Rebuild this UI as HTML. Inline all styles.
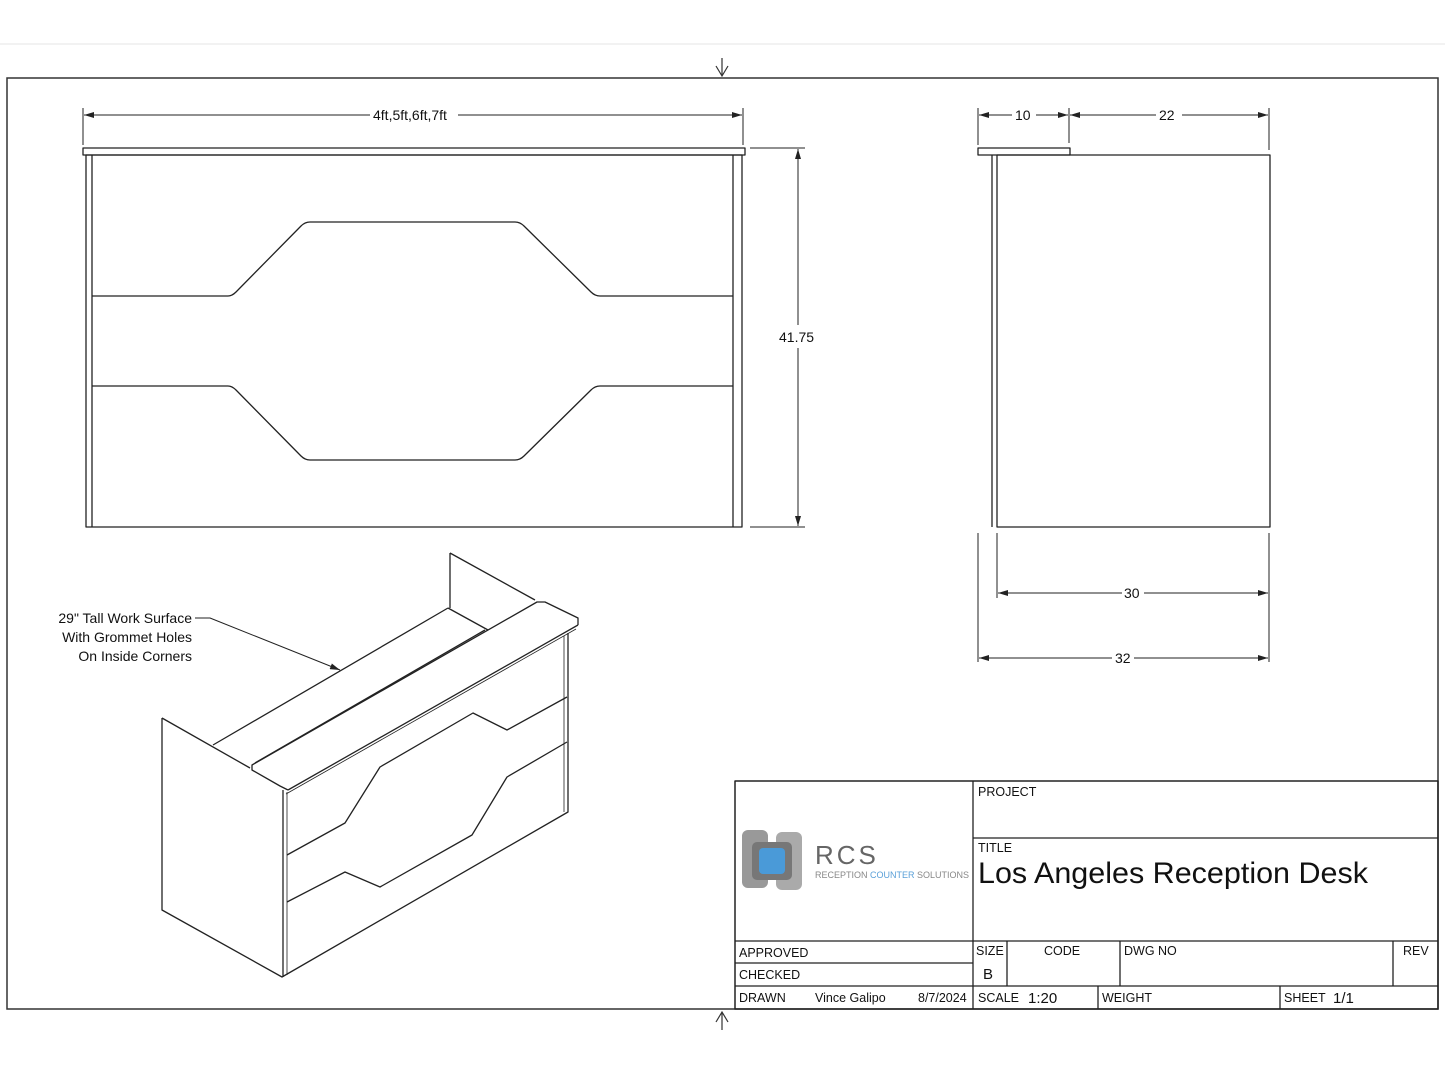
<!DOCTYPE html>
<html><head><style>
body{margin:0;background:#fff;}
svg{display:block;}
text{font-family:"Liberation Sans",sans-serif;fill:#111;}
</style></head><body>
<svg width="1445" height="1084" viewBox="0 0 1445 1084" xmlns="http://www.w3.org/2000/svg">
<defs>
<marker id="a" viewBox="0 0 10 6" refX="10" refY="3" markerWidth="10" markerHeight="6" orient="auto-start-reverse" markerUnits="userSpaceOnUse"><path d="M0,0L10,3L0,6z" fill="#222"/></marker>
</defs>
<line x1="0" y1="44" x2="1445" y2="44" stroke="#e6e6e6"/>
<rect x="7" y="78" width="1431" height="931" fill="none" stroke="#333" stroke-width="1.5"/>
<g stroke="#333" fill="none" stroke-width="1.2">
<path d="M722,58v18M716,66l6,10l6-10"/>
<path d="M722,1030v-18M716,1022l6-10l6,10"/>
</g>
<g stroke="#222" fill="none" stroke-width="1.3" stroke-linejoin="round">
<rect x="83" y="148" width="662" height="7"/>
<rect x="86" y="155" width="656" height="372"/>
<line x1="92" y1="155" x2="92" y2="527"/>
<line x1="733" y1="155" x2="733" y2="527"/>
<path d="M92,296H228Q232,296 236,292L301,226Q305,222 310,222H515Q520,222 524,226L591,292Q595,296 600,296H733"/>
<path d="M92,386H228Q232,386 236,390L301,456Q305,460 310,460H515Q520,460 524,456L591,390Q595,386 600,386H733"/>
<line x1="83" y1="108" x2="83" y2="145" stroke-width="1"/>
<line x1="743" y1="108" x2="743" y2="145" stroke-width="1"/>
<line x1="84" y1="115" x2="370" y2="115" stroke-width="1" marker-start="url(#a)"/>
<line x1="458" y1="115" x2="742" y2="115" stroke-width="1" marker-end="url(#a)"/>
<line x1="750" y1="148" x2="805" y2="148" stroke-width="1"/>
<line x1="750" y1="527" x2="805" y2="527" stroke-width="1"/>
<line x1="798" y1="149" x2="798" y2="325" stroke-width="1" marker-start="url(#a)"/>
<line x1="798" y1="348" x2="798" y2="526" stroke-width="1" marker-end="url(#a)"/>
<rect x="978" y="148" width="92" height="7"/>
<rect x="997" y="155" width="273" height="372"/>
<line x1="992" y1="155" x2="992" y2="527"/>
<line x1="978" y1="108" x2="978" y2="145" stroke-width="1"/>
<line x1="1069" y1="108" x2="1069" y2="143" stroke-width="1"/>
<line x1="1269" y1="108" x2="1269" y2="150" stroke-width="1"/>
<line x1="979" y1="115" x2="1012" y2="115" stroke-width="1" marker-start="url(#a)"/>
<line x1="1036" y1="115" x2="1068" y2="115" stroke-width="1" marker-end="url(#a)"/>
<line x1="1070" y1="115" x2="1156" y2="115" stroke-width="1" marker-start="url(#a)"/>
<line x1="1182" y1="115" x2="1268" y2="115" stroke-width="1" marker-end="url(#a)"/>
<line x1="997" y1="533" x2="997" y2="598" stroke-width="1"/>
<line x1="1269" y1="533" x2="1269" y2="662" stroke-width="1"/>
<line x1="978" y1="533" x2="978" y2="662" stroke-width="1"/>
<line x1="998" y1="593" x2="1122" y2="593" stroke-width="1" marker-start="url(#a)"/>
<line x1="1144" y1="593" x2="1268" y2="593" stroke-width="1" marker-end="url(#a)"/>
<line x1="979" y1="658" x2="1112" y2="658" stroke-width="1" marker-start="url(#a)"/>
<line x1="1134" y1="658" x2="1268" y2="658" stroke-width="1" marker-end="url(#a)"/>
<path d="M162,718L250,768M162,718V910L282,977L568,812V633"/>
<line x1="283" y1="790" x2="283" y2="977"/>
<line x1="287" y1="792" x2="287" y2="975" stroke-width="0.8"/>
<path d="M288,790L578,625"/>
<path d="M286,794L576,629" stroke-width="0.8"/>
<path d="M578,625L578,618L545,602L537,602L252,765L252,770L280,786L288,790"/>
<path d="M450,553V608M450,553L535,600"/>
<path d="M448,608L488,630M448,608L213,745M485,630L255,763"/>
<line x1="564" y1="636" x2="564" y2="812" stroke-width="0.8"/>
<path d="M287,855L345,823L380,767L473,713L507,730L567,697"/>
<path d="M287,902L345,872L380,887L472,835L507,777L567,742"/>
<path d="M195,618L210,618L340,670" stroke-width="1" marker-end="url(#a)"/>
<rect x="735" y="781" width="703" height="228" stroke-width="1.5"/>
<line x1="973" y1="781" x2="973" y2="1009"/>
<line x1="973" y1="838" x2="1438" y2="838"/>
<line x1="735" y1="941" x2="1438" y2="941"/>
<line x1="735" y1="963" x2="973" y2="963"/>
<line x1="735" y1="986" x2="1438" y2="986"/>
<line x1="1007" y1="941" x2="1007" y2="986"/>
<line x1="1120" y1="941" x2="1120" y2="986"/>
<line x1="1393" y1="941" x2="1393" y2="986"/>
<line x1="1098" y1="986" x2="1098" y2="1009"/>
<line x1="1280" y1="986" x2="1280" y2="1009"/>
</g>
<g font-size="14">
<text x="373" y="120">4ft,5ft,6ft,7ft</text>
<text x="779" y="342">41.75</text>
<text x="1015" y="120">10</text>
<text x="1159" y="120">22</text>
<text x="1124" y="598">30</text>
<text x="1115" y="663">32</text>
<text x="192" y="623" text-anchor="end">29" Tall Work Surface</text>
<text x="192" y="642" text-anchor="end">With Grommet Holes</text>
<text x="192" y="661" text-anchor="end">On Inside Corners</text>
</g>
<g font-size="12.5">
<text x="978" y="796">PROJECT</text>
<text x="978" y="852">TITLE</text>
<text x="739" y="957">APPROVED</text>
<text x="739" y="979">CHECKED</text>
<text x="739" y="1002">DRAWN</text>
<text x="815" y="1002">Vince Galipo</text>
<text x="918" y="1002">8/7/2024</text>
<text x="976" y="955">SIZE</text>
<text x="1044" y="955">CODE</text>
<text x="1124" y="955">DWG NO</text>
<text x="1403" y="955">REV</text>
<text x="978" y="1002">SCALE</text>
<text x="1102" y="1002">WEIGHT</text>
<text x="1284" y="1002">SHEET</text>
</g>
<text x="983" y="979" font-size="15">B</text>
<text x="1028" y="1003" font-size="15">1:20</text>
<text x="1333" y="1003" font-size="15">1/1</text>
<text x="978" y="883" font-size="30" textLength="390" lengthAdjust="spacingAndGlyphs">Los Angeles Reception Desk</text>
<rect x="742" y="830" width="26" height="58" rx="6" fill="#999"/>
<rect x="776" y="832" width="26" height="58" rx="6" fill="#aaa"/>
<rect x="752" y="842" width="40" height="38" rx="5" fill="#777"/>
<rect x="759" y="848" width="26" height="26" rx="4" fill="#4a9ad8"/>
<text x="815" y="864" font-size="26" style="fill:#666;letter-spacing:3px">RCS</text>
<text x="815" y="878" font-size="9" style="fill:#888">RECEPTION <tspan style="fill:#5aa0d8">COUNTER</tspan> SOLUTIONS</text>
</svg>
</body></html>
